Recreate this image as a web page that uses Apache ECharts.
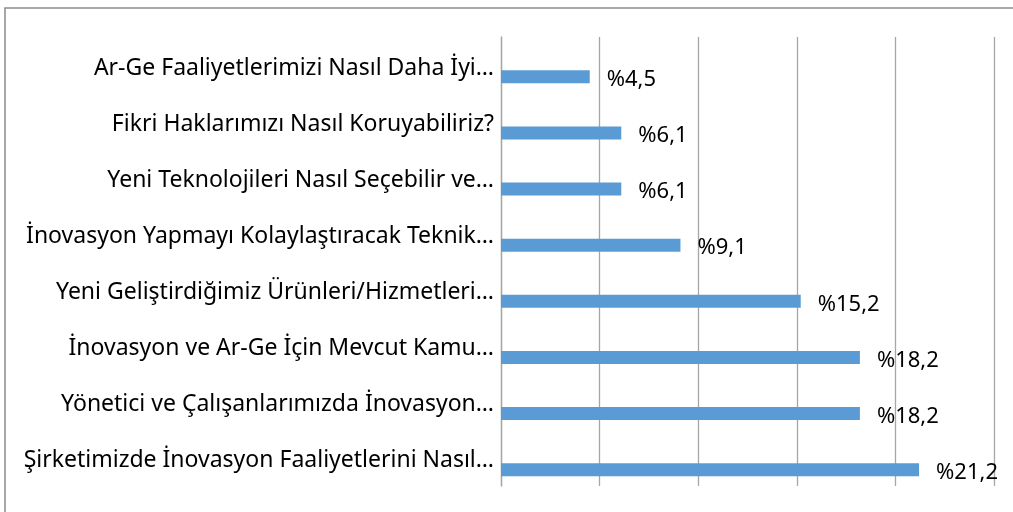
<!DOCTYPE html>
<html>
<head>
    <meta charset="utf-8">
    <title>Bar</title>
    <script src="https://cdn.jsdelivr.net/npm/echarts@6/dist/echarts.min.js"></script>
</head>
<body style="margin:0;background:#fff;">
    <div id="main" style="width: 1013px;height:512px;"></div>
    <script type="text/javascript">

    // top to bottom as in the picture
    var categories = [
        'Ar-Ge Faaliyetlerimizi Nasıl Daha İyi…',
        'Fikri Haklarımızı Nasıl Koruyabiliriz?',
        'Yeni Teknolojileri Nasıl Seçebilir ve…',
        'İnovasyon Yapmayı Kolaylaştıracak Teknik…',
        'Yeni Geliştirdiğimiz Ürünleri/Hizmetleri…',
        'İnovasyon ve Ar-Ge İçin Mevcut Kamu…',
        'Yönetici ve Çalışanlarımızda İnovasyon…',
        'Şirketimizde İnovasyon Faaliyetlerini Nasıl…'
    ];
    var values = [4.5, 6.1, 6.1, 9.1, 15.2, 18.2, 18.2, 21.2];

    var myChart = echarts.init(document.getElementById('main'));

    var option = {
        animation: false,
        graphic: [{
            type: 'rect',
            shape: { x: 5, y: 8, width: 1100, height: 600 },
            style: { fill: 'none', stroke: '#8c8c8c', lineWidth: 1.5 },
            silent: true
        }],
        grid: { left: 501, right: 19, top: 37, bottom: 26 },
        xAxis: {
            type: 'value',
            min: 0,
            max: 25,
            interval: 5,
            axisLine: { show: false },
            axisTick: { show: false },
            axisLabel: { show: false },
            splitLine: { lineStyle: { color: '#a6a6a6', width: 1.3 } }
        },
        yAxis: {
            type: 'category',
            inverse: true,
            data: categories,
            axisLine: { lineStyle: { color: '#a6a6a6', width: 1.3 } },
            axisTick: { length: 5, lineStyle: { color: '#a6a6a6', width: 1.3 } },
            axisLabel: {
                margin: 7,
                formatter: function (v) { return '{t|' + v + '}'; },
                rich: {
                    t: {
                        color: '#000',
                        fontFamily: 'Noto Sans',
                        fontSize: 23,
                        padding: [6, 0, 0, 0]
                    }
                }
            }
        },
        series: [
            {
                // empty slot, keeps the real bar in the lower half of its band
                type: 'bar',
                data: [],
                barWidth: 13,
                barGap: '80%'
            },
            {
                type: 'bar',
                data: values,
                barWidth: 13,
                barGap: '80%',
                itemStyle: { color: '#5b9bd5' },
                label: {
                    show: true,
                    position: 'right',
                    distance: 17,
                    offset: [0, 3],
                    color: '#000',
                    fontFamily: 'Noto Sans',
                    fontSize: 22,
                    formatter: function (p) {
                        return '%' + String(p.value).replace('.', ',');
                    }
                }
            }
        ]
    };

    myChart.setOption(option);
    </script>
</body>
</html>
